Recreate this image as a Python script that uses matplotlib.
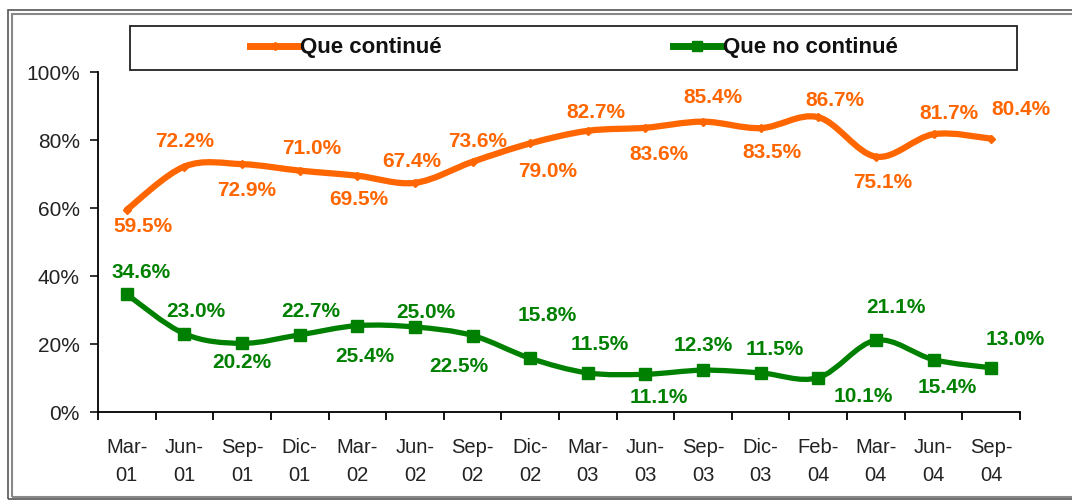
import matplotlib
matplotlib.use("Agg")
import matplotlib.pyplot as plt
from matplotlib.path import Path
from matplotlib.patches import PathPatch, Rectangle
from matplotlib.lines import Line2D
import numpy as np

plt.rcParams['font.family'] = ['Liberation Sans', 'DejaVu Sans']

#----------------------------------------------------------
# DATA
#----------------------------------------------------------
periods = ["Mar-\n01", "Jun-\n01", "Sep-\n01", "Dic-\n01", "Mar-\n02", "Jun-\n02",
           "Sep-\n02", "Dic-\n02", "Mar-\n03", "Jun-\n03", "Sep-\n03", "Dic-\n03",
           "Feb-\n04", "Mar-\n04", "Jun-\n04", "Sep-\n04"]
continua = [59.5, 72.2, 72.9, 71.0, 69.5, 67.4, 73.6, 79.0, 82.7, 83.6, 85.4, 83.5,
            86.7, 75.1, 81.7, 80.4]
no_continua = [34.6, 23.0, 20.2, 22.7, 25.4, 25.0, 22.5, 15.8, 11.5, 11.1, 12.3, 11.5,
               10.1, 21.1, 15.4, 13.0]

# label offsets in pixels (dx, dy), dy positive = up
off_orange = [(16, -17), (0, 25), (5, -26), (12, 22), (2, -24), (-3, 21), (5, 20), (17, -28),
              (8, 18), (14, -27), (10, 24), (11, -24), (17, 17), (7, -26), (15, 21), (30, 29)]
off_green = [(14, 22), (11, 22), (0, -19), (11, 23), (7, -31), (11, 15), (-14, -31), (17, 43),
             (12, 28), (13, -23), (0, 25), (14, 23), (45, -19), (20, 33), (14, -28), (24, 28)]

ORANGE = "#FF6600"
GREEN = "#008000"


def smooth_path(xs, ys):
    # excel-like smoothed line: cubic bezier segments
    pts = np.column_stack([xs, ys]).astype(float)
    n = len(pts)
    verts = [pts[0]]
    codes = [Path.MOVETO]
    for i in range(n - 1):
        p0 = pts[max(i - 1, 0)]
        p1 = pts[i]
        p2 = pts[i + 1]
        p3 = pts[min(i + 2, n - 1)]
        c1 = p1 + (p2 - p0) / 6.0
        c2 = p2 - (p3 - p1) / 6.0
        verts += [c1, c2, p2]
        codes += [Path.CURVE4] * 3
    return Path(verts, codes)


#----------------------------------------------------------
# FIGURE
#----------------------------------------------------------
W, H = 1072, 501
fig = plt.figure(figsize=(W / 100, H / 100), dpi=100)
fig.patch.set_facecolor("white")

# outer double frame
fig.patches.append(Rectangle((8 / W, 2 / H), 1.2, (H - 12) / H, transform=fig.transFigure,
                             fill=False, ec="#555555", lw=1.2))
fig.patches.append(Rectangle((12 / W, 4 / H), 1.2, (H - 18) / H, transform=fig.transFigure,
                             fill=False, ec="#888888", lw=1.5))

ax = fig.add_axes([98 / W, (H - 412) / H, (1020 - 98) / W, (412 - 72) / H])
x = np.arange(len(periods))

for vals, col, lw, mk, ms, offs in [(continua, ORANGE, 4.5, "D", 4, off_orange),
                                     (no_continua, GREEN, 3.8, "s", 8, off_green)]:
    ax.add_patch(PathPatch(smooth_path(x, vals), fill=False, ec=col, lw=lw,
                           capstyle="round", joinstyle="round", zorder=3))
    ax.plot(x, vals, ls="none", marker=mk, ms=ms, color=col, zorder=4)
    for xi, v, (dx, dy) in zip(x, vals, offs):
        ax.annotate(f"{v:.1f}%", (xi, v), xytext=(dx, dy), textcoords="offset pixels",
                    ha="center", va="center", color=col, fontsize=15, fontweight="bold")

ax.set_xlim(-0.5, len(periods) - 0.5)
ax.set_ylim(0, 100)
ax.set_yticks(range(0, 101, 20))
ax.set_yticklabels([f"{t}%" for t in range(0, 101, 20)])
ax.set_xticks(x)
ax.set_xticklabels(periods, linespacing=1.55)
ax.set_xticks(np.arange(-0.5, len(periods), 1), minor=True)
ax.tick_params(axis="x", which="major", length=0, pad=19, labelsize=14.5, colors="#222222")
ax.tick_params(axis="x", which="minor", length=6, width=1.3, direction="out")
ax.tick_params(axis="y", length=6, width=1.3, pad=7, labelsize=15, colors="#222222")
for s in ["top", "right"]:
    ax.spines[s].set_visible(False)
for s in ["left", "bottom"]:
    ax.spines[s].set_linewidth(1.3)
ax.patch.set_alpha(0)

# legend box
fig.patches.append(Rectangle((130 / W, (H - 70) / H), (1017 - 130) / W, 44 / H,
                             transform=fig.transFigure, fill=False, ec="#222222", lw=1.3))
handles = [Line2D([], [], color=ORANGE, lw=5, marker="D", ms=4),
           Line2D([], [], color=GREEN, lw=5, marker="s", ms=7)]
fig.legend(handles, ["Que continué", "Que no continué"], ncol=2, frameon=False,
           loc="center", bbox_to_anchor=(574 / W, (H - 48) / H),
           prop={"size": 16, "weight": "bold"}, handlelength=2.2, handletextpad=0.05,
           columnspacing=10.4, labelcolor="#111111")

fig.savefig("out.png", dpi=100)
